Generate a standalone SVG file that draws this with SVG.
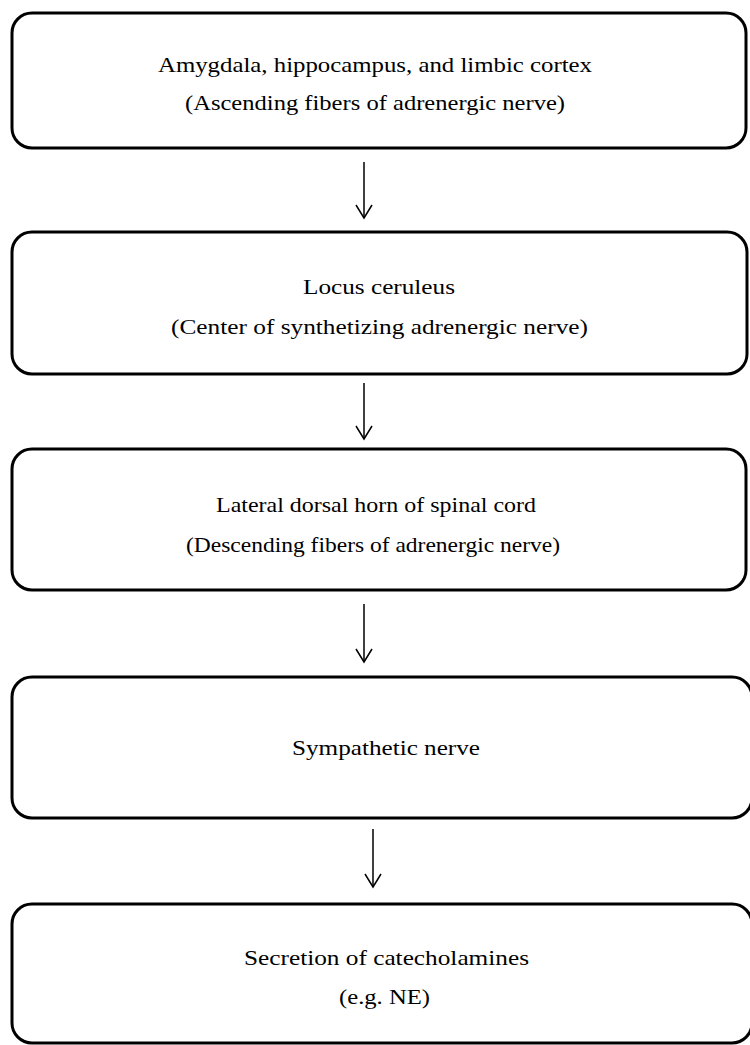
<svg xmlns="http://www.w3.org/2000/svg" width="750" height="1045" viewBox="0 0 750 1045">
<style>
.box{fill:#fff;stroke:#000;stroke-width:3}
.lbl{font-family:"Liberation Serif","Times New Roman",serif;font-size:21px;fill:#000;text-anchor:middle}
.conn{stroke:#000;stroke-width:1.5;fill:none}
</style>
<defs>
<marker id="ah" markerUnits="userSpaceOnUse" markerWidth="20" markerHeight="20" viewBox="-15 -10 20 20" refX="0" refY="0" orient="auto">
<path d="M-13,-8 L0,0 L-13,8" fill="none" stroke="#000" stroke-width="1.5"/>
</marker>
</defs>
<rect width="750" height="1045" fill="#fff"/>
<g id="n1">
<rect class="box" x="12" y="13" width="734" height="135" rx="20" ry="20"/>
<text class="lbl" x="375" y="72" textLength="434" lengthAdjust="spacingAndGlyphs">Amygdala, hippocampus, and limbic cortex</text>
<text class="lbl" x="375" y="110" textLength="380" lengthAdjust="spacingAndGlyphs">(Ascending fibers of adrenergic nerve)</text>
</g>
<g id="n2">
<rect class="box" x="12" y="232" width="735" height="142" rx="20" ry="20"/>
<text class="lbl" x="379" y="294" textLength="152" lengthAdjust="spacingAndGlyphs">Locus ceruleus</text>
<text class="lbl" x="379.5" y="334" textLength="417" lengthAdjust="spacingAndGlyphs">(Center of synthetizing adrenergic nerve)</text>
</g>
<g id="n3">
<rect class="box" x="12" y="449" width="734" height="141" rx="20" ry="20"/>
<text class="lbl" x="376" y="512" textLength="320" lengthAdjust="spacingAndGlyphs">Lateral dorsal horn of spinal cord</text>
<text class="lbl" x="373" y="552" textLength="374" lengthAdjust="spacingAndGlyphs">(Descending fibers of adrenergic nerve)</text>
</g>
<g id="n4">
<rect class="box" x="12" y="677" width="740" height="141" rx="20" ry="20"/>
<text class="lbl" x="386" y="755" textLength="188" lengthAdjust="spacingAndGlyphs">Sympathetic nerve</text>
</g>
<g id="n5">
<rect class="box" x="12" y="904" width="740" height="139" rx="20" ry="20"/>
<text class="lbl" x="386.5" y="965" textLength="285" lengthAdjust="spacingAndGlyphs">Secretion of catecholamines</text>
<text class="lbl" x="384.5" y="1004" textLength="91" lengthAdjust="spacingAndGlyphs">(e.g. NE)</text>
</g>
<g id="connectors">
<line class="conn" x1="364" y1="162" x2="364" y2="218" marker-end="url(#ah)"/>
<line class="conn" x1="364" y1="383" x2="364" y2="439" marker-end="url(#ah)"/>
<line class="conn" x1="364" y1="604" x2="364" y2="662" marker-end="url(#ah)"/>
<line class="conn" x1="373" y1="829" x2="373" y2="887" marker-end="url(#ah)"/>
</g>
</svg>
